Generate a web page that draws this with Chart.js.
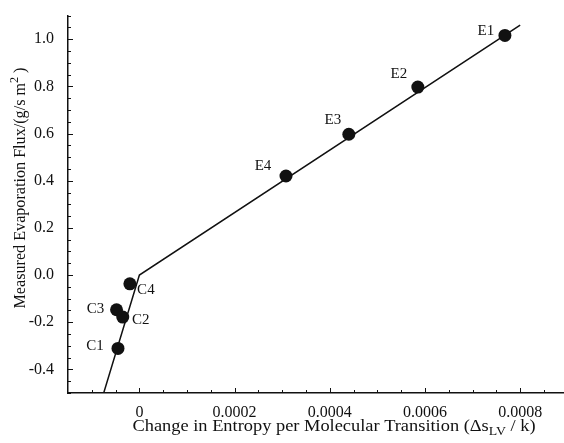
<!DOCTYPE html>
<html>
<head>
<meta charset="utf-8">
<script src="https://cdn.jsdelivr.net/npm/chart.js@4.4.0/dist/chart.umd.min.js"></script>
<style>
  body { margin: 0; background: #fff; }
  .chart-wrap { width: 564px; height: 443px; }
</style>
</head>
<body>
<div class="chart-wrap"><canvas id="fluxChart" width="564" height="443"></canvas></div>
<script>
// measured points
const pointNames = ['E1', 'E2', 'E3', 'E4', 'C4', 'C3', 'C2', 'C1'];
const entropyChange = [0.000768, 0.000585, 0.000440, 0.000308, -0.000020, -0.000048, -0.000035, -0.000045];
const evaporationFlux = [1.016, 0.797, 0.597, 0.420, -0.037, -0.147, -0.178, -0.311];

// fitted line (two straight pieces)
const fitEntropy = [-0.000075, 0, 0.0008];
const fitFlux = [-0.5, 0, 1.06];

// tick labels
const xTickValues = [0, 0.0002, 0.0004, 0.0006, 0.0008];
const yTickValues = [-0.4, -0.2, 0.0, 0.2, 0.4, 0.6, 0.8, 1.0];

// where each point name sits relative to its dot (px)
const labelOffsets = [[-19, -4], [-19, -13], [-16, -14], [-23, -10], [16, 6], [-21, -1], [18, 3], [-23, -2]];

const serif = '"Liberation Serif", "Times New Roman", serif';
const ink = '#111';

const pointData = entropyChange.map((x, i) => ({ x: x, y: evaporationFlux[i] }));
const fitData = fitEntropy.map((x, i) => ({ x: x, y: fitFlux[i] }));

// small inward ticks like the original plot
const inwardTicks = {
  id: 'inwardTicks',
  afterDatasetsDraw(chart) {
    const ctx = chart.ctx;
    const area = chart.chartArea;
    const xs = chart.scales.x, ys = chart.scales.y;
    ctx.save();
    ctx.strokeStyle = ink;
    ctx.lineWidth = 1;
    ctx.beginPath();
    for (let i = -3; i <= 17; i++) {
      const v = i * 0.00005;
      if (v < xs.min || v > xs.max) continue;
      const px = Math.round(xs.getPixelForValue(v)) + 0.5;
      const len = i % 4 === 0 ? 5 : 3;
      ctx.moveTo(px, area.bottom);
      ctx.lineTo(px, area.bottom - len);
    }
    for (let i = -10; i <= 22; i++) {
      const v = i * 0.05;
      if (v < ys.min || v > ys.max) continue;
      const py = Math.round(ys.getPixelForValue(v)) + 0.5;
      const len = i % 4 === 0 ? 5 : 3;
      ctx.moveTo(area.left, py);
      ctx.lineTo(area.left + len, py);
    }
    ctx.stroke();
    ctx.restore();
  }
};

// names next to the dots
const pointLabels = {
  id: 'pointLabels',
  afterDatasetsDraw(chart) {
    const ctx = chart.ctx;
    const meta = chart.getDatasetMeta(0);
    ctx.save();
    ctx.fillStyle = ink;
    ctx.font = '15px ' + serif;
    ctx.textAlign = 'center';
    ctx.textBaseline = 'middle';
    meta.data.forEach((pt, i) => {
      const off = labelOffsets[i];
      ctx.fillText(pointNames[i], pt.x + off[0], pt.y + off[1]);
    });
    ctx.restore();
  }
};

// draws text pieces (normal / sub / sup) stretched to a given width, centred at 0
function drawPieces(ctx, pieces, targetWidth) {
  let total = 0;
  pieces.forEach(p => {
    ctx.font = p.size + 'px ' + serif;
    p.w = ctx.measureText(p.text).width;
    total += p.w;
  });
  ctx.scale(targetWidth / total, 1);
  let x = -total / 2;
  pieces.forEach(p => {
    ctx.font = p.size + 'px ' + serif;
    ctx.fillText(p.text, x, p.dy);
    x += p.w;
  });
}

// axis titles with sub/superscripts
const axisTitles = {
  id: 'axisTitles',
  afterDraw(chart) {
    const ctx = chart.ctx;
    ctx.save();
    ctx.fillStyle = ink;
    ctx.textBaseline = 'alphabetic';
    ctx.textAlign = 'left';
    ctx.translate(334, 431);
    drawPieces(ctx, [
      { text: 'Change in Entropy per Molecular Transition (\u0394s', size: 16, dy: 0 },
      { text: 'LV', size: 12, dy: 4 },
      { text: ' / k)', size: 16, dy: 0 }
    ], 403);
    ctx.restore();

    ctx.save();
    ctx.fillStyle = ink;
    ctx.textBaseline = 'alphabetic';
    ctx.textAlign = 'left';
    ctx.translate(25, 188);
    ctx.rotate(-Math.PI / 2);
    drawPieces(ctx, [
      { text: 'Measured Evaporation Flux/(g/s m', size: 16, dy: 0 },
      { text: '2', size: 12, dy: -7 },
      { text: ' )', size: 16, dy: 0 }
    ], 241);
    ctx.restore();
  }
};

const drawChart = function () {
  const ctx = document.getElementById('fluxChart').getContext('2d');
  const config = {
    type: 'scatter',
    data: {
      datasets: [
        {
          data: pointData,
          backgroundColor: ink,
          borderColor: ink,
          pointRadius: 6.5,
          pointHoverRadius: 6.5,
          borderWidth: 0
        },
        {
          type: 'line',
          data: fitData,
          borderColor: ink,
          borderWidth: 1.5,
          pointRadius: 0,
          fill: false,
          tension: 0
        }
      ]
    },
    options: {
      responsive: false,
      animation: false,
      layout: { padding: { top: 5, right: 1, left: 0, bottom: 0 }, autoPadding: false },
      scales: {
        x: {
          type: 'linear',
          min: -0.00015,
          max: 0.00089,
          grid: { display: false },
          border: { display: true, color: ink, width: 1.5 },
          afterBuildTicks: function (scale) {
            scale.ticks = xTickValues.map(v => ({ value: v }));
          },
          afterFit: function (scale) { scale.height = 50; },
          ticks: {
            color: ink,
            font: { family: serif, size: 16 },
            padding: 2,
            maxRotation: 0,
            autoSkip: false,
            callback: v => (v === 0 ? '0' : v.toFixed(4))
          }
        },
        y: {
          type: 'linear',
          min: -0.5,
          max: 1.1,
          grid: { display: false },
          border: { display: true, color: ink, width: 1.5 },
          afterBuildTicks: function (scale) {
            scale.ticks = yTickValues.map(v => ({ value: v }));
          },
          afterFit: function (scale) { scale.width = 68; },
          ticks: {
            color: ink,
            font: { family: serif, size: 16 },
            padding: 6,
            autoSkip: false,
            callback: v => v.toFixed(1)
          }
        }
      },
      plugins: {
        legend: { display: false },
        title: { display: false },
        tooltip: { enabled: false }
      }
    },
    plugins: [inwardTicks, pointLabels, axisTitles]
  };
  new Chart(ctx, config);
};

document.addEventListener('DOMContentLoaded', function () {
  drawChart();
});
</script>
</body>
</html>
